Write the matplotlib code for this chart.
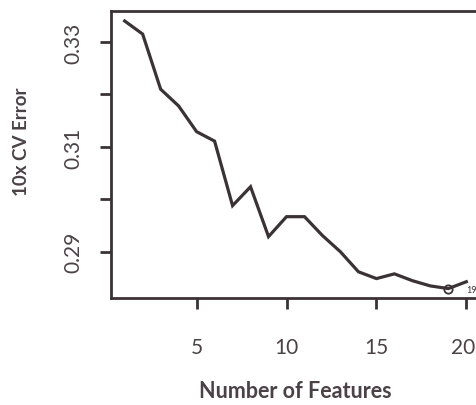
import matplotlib.pyplot as plt

# number of features vs 10-fold CV error
n_features = list(range(1, 21))
cv_error = [0.3340, 0.3315, 0.3210, 0.3178, 0.3129, 0.3111, 0.2988, 0.3024,
            0.2929, 0.2967, 0.2967, 0.2931, 0.2900, 0.2862, 0.2849, 0.2858,
            0.2845, 0.2835, 0.2830, 0.2843]
best_n = 19
best_err = 0.2830
x_ticks = [5, 10, 15, 20]
y_ticks = [0.29, 0.30, 0.31, 0.32, 0.33]
y_labels = ['0.29', '', '0.31', '', '0.33']

ink = '#3b3236'
txt = '#4a4246'
plt.rcParams['font.family'] = ['Lato', 'DejaVu Sans']

fig = plt.figure(figsize=(4.76, 4.06), dpi=100)
ax = fig.add_axes([111 / 476, 1 - 299 / 406, 369 / 476, 287 / 406])

ax.plot(n_features, cv_error, color=ink, lw=2.3, solid_joinstyle='miter')
ax.plot(best_n, best_err, 'o', mfc='none', mec=ink, ms=6, mew=1.3)
# point label sits at the right edge, keep it inside the picture
ax.text(20.0, best_err - 0.0002, str(best_n), fontsize=6.5, color=ink,
        va='center', ha='left', clip_on=False)

ax.set_xlim(0.24, 20.76)
ax.set_ylim(0.2812, 0.3359)
ax.set_xticks(x_ticks)
ax.set_xticklabels([str(t) for t in x_ticks[:-1]] + [''])
ax.set_yticks(y_ticks)
ax.set_yticklabels(y_labels, rotation=90, va='center')
ax.tick_params(axis='both', direction='out', length=8, width=2, color=ink,
               labelcolor=txt, labelsize=15)
ax.tick_params(axis='x', pad=20)
ax.tick_params(axis='y', pad=12)
for s in ax.spines.values():
    s.set_color(ink)
    s.set_linewidth(2)

# last x tick label would be cut by the right edge, pin it inside
ax.annotate(str(x_ticks[-1]), xy=(x_ticks[-1], 0),
            xycoords=('data', 'axes fraction'), xytext=(6.5, -28),
            textcoords='offset points', ha='right', va='top',
            fontsize=15, color=txt)

fig.text(22 / 476, 1 - 142 / 406, '10x CV Error', rotation=90, ha='center',
         va='center', fontsize=13.5, fontweight='bold', color=txt)
fig.text(295 / 476, 1 - 392 / 406, 'Number of Features', ha='center',
         va='center', fontsize=15.5, fontweight='bold', color=txt)

fig.savefig('out.png', dpi=100)
